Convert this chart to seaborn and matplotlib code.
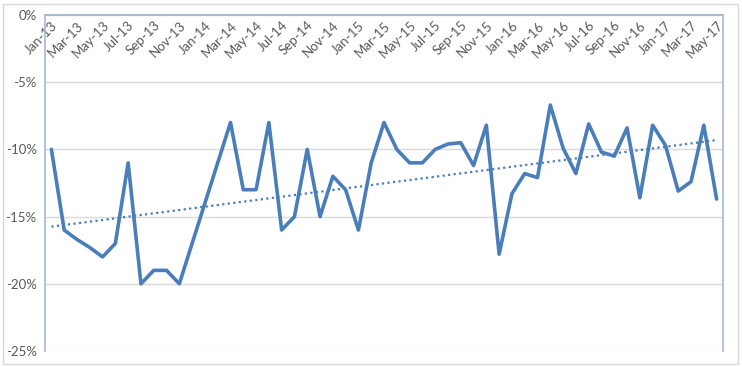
import numpy as np
import pandas as pd
import matplotlib
matplotlib.use("Agg")
import matplotlib.pyplot as plt
from matplotlib.patches import Rectangle
from matplotlib.ticker import FuncFormatter
import seaborn as sns

# monthly values, Jan-13 .. May-17 (percent)
months = pd.date_range("2013-01-01", "2017-05-01", freq="MS").strftime("%b-%y").tolist()
values = [
    -10.0, -16.0, -16.7, -17.3, -18.0, -17.0, -11.0, -20.0, -19.0, -19.0, -20.0, -17.0,   # 2013
    -14.0, -11.0, -8.0, -13.0, -13.0, -8.0, -16.0, -15.0, -10.0, -15.0, -12.0, -13.0,     # 2014
    -16.0, -11.0, -8.0, -10.0, -11.0, -11.0, -10.0, -9.6, -9.5, -11.2, -8.2, -17.8,       # 2015
    -13.3, -11.8, -12.1, -6.7, -9.9, -11.8, -8.1, -10.2, -10.5, -8.4, -13.6, -8.2,        # 2016
    -9.7, -13.1, -12.4, -8.2, -13.7,                                                      # 2017
]

df = pd.DataFrame({"idx": np.arange(len(months)), "month": months, "value": values})

sns.set_style("white")
plt.rcParams["font.family"] = ["Lato", "DejaVu Sans"]

fig = plt.figure(figsize=(7.42, 3.67), dpi=100)
ax = fig.add_axes([45 / 742, 1 - 351 / 367, (723 - 45) / 742, (351 - 15) / 367])

blue = "#4A7EBB"
sns.lineplot(data=df, x="idx", y="value", color=blue, linewidth=2.6, ax=ax)

# linear trendline
coef = np.polyfit(df["idx"], df["value"], 1)
trend = np.polyval(coef, df["idx"])
ax.plot(df["idx"], trend, color=blue, linestyle=(0, (1, 1.5)), linewidth=1.6)

ax.set_xlim(-0.5, len(months) - 0.5)
ax.set_ylim(-25, 0)
ax.set_yticks([0, -5, -10, -15, -20, -25])
ax.yaxis.set_major_formatter(FuncFormatter(lambda v, p: f"{v:.0f}%"))
ax.grid(axis="y", color="#D9D9D9", linewidth=1)
ax.set_axisbelow(True)

# category axis crosses at 0 -> labels sit just under the top line
ax.spines["bottom"].set_position(("data", 0))
for s in ax.spines.values():
    s.set_color("#A7B9D4")
    s.set_linewidth(1.2)

ax.set_xticks(df["idx"][::2])
ax.set_xticklabels(df["month"][::2])
ax.tick_params(axis="x", length=0, pad=3, labelsize=9.5, labelcolor="#595959", labelrotation=45)
ax.tick_params(axis="y", length=0, pad=6, labelsize=9.5, labelcolor="#595959")
for lab in ax.get_xticklabels():
    lab.set_ha("right")
    lab.set_va("top")
    lab.set_rotation_mode("anchor")
ax.set_xlabel("")
ax.set_ylabel("")

# outer chart border
fig.patches.append(Rectangle((3 / 742, 3 / 367), 735 / 742, 360 / 367, transform=fig.transFigure,
                             fill=False, edgecolor="#D9D9D9", linewidth=1))

fig.savefig("out.png", dpi=100)
